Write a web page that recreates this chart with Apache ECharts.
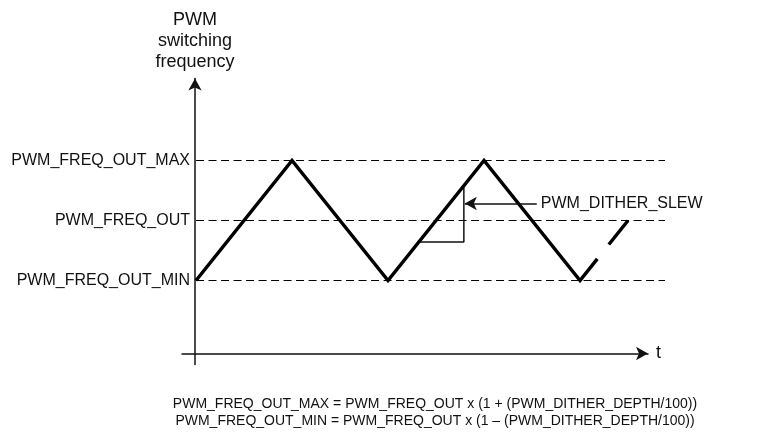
<!DOCTYPE html>
<html><head><meta charset="utf-8">
<script src="https://cdn.jsdelivr.net/npm/echarts@6/dist/echarts.min.js"></script>
<style>html,body{margin:0;padding:0;background:#fff}#c{width:774px;height:433px}</style>
</head><body><div id="c"></div>
<script>
// Frequency levels (MAX / OUT / MIN) and their tick labels
const levelValues = [1, 0, -1];
const levelLabels = ['PWM_FREQ_OUT_MAX', 'PWM_FREQ_OUT', 'PWM_FREQ_OUT_MIN'];
const levelStart = 0;
const levelEnd = 4.865;
// Triangle dither waveform (time, frequency)
const waveTime = [0, 1, 2, 3, 4, 4.18];
const waveFreq = [-1, 1, -1, 1, -1, -0.64];
// Continuation segment after the gap
const tailTime = [4.3, 4.5];
const tailFreq = [-0.4, 0];
// Slew-rate triangle
const slewTime = [2.32, 2.79, 2.79];
const slewFreq = [-0.36, -0.36, 0.58];
// Annotation arrow (from label to triangle)
const arrowTime = [3.55, 2.80];
const arrowFreq = [0.283, 0.283];
const arrowLabel = 'PWM_DITHER_SLEW';
const yTitle = 'PWM\nswitching\nfrequency';
const xTitle = 't';
const formulaLines = [
  'PWM_FREQ_OUT_MAX = PWM_FREQ_OUT x (1 + (PWM_DITHER_DEPTH/100))',
  'PWM_FREQ_OUT_MIN = PWM_FREQ_OUT x (1 \u2013 (PWM_DITHER_DEPTH/100))'
];

const FONT = "'Liberation Sans', Arial, Helvetica, sans-serif";
const INK = '#111';
const zip = (a, b) => a.map((v, i) => [v, b[i]]);

const X_MIN = -0.1458, X_MAX = 4.708, X2_MAX = 4.865;
const Y_MIN = -2.4, Y_MAX = 2.367;

const levelSeries = levelValues.map(v => ({
  type: 'line',
  xAxisIndex: 1, yAxisIndex: 1,
  data: [[levelStart, v], [levelEnd, v]],
  symbol: 'none',
  silent: true,
  clip: false,
  lineStyle: { color: '#000', width: 1, type: [8, 4.5] },
  z: 1
}));

const chart = echarts.init(document.getElementById('c'), null, { renderer: 'canvas' });
chart.setOption({
  animation: false,
  backgroundColor: '#fff',
  textStyle: { fontFamily: FONT },
  grid: [
    { left: 182, right: 126, top: 78.5, bottom: 68.5, containLabel: false, outerBoundsMode: 'none' },
    { left: 182, right: 109, top: 78.5, bottom: 68.5, containLabel: false, outerBoundsMode: 'none' }
  ],
  xAxis: [{
    type: 'value',
    gridIndex: 0,
    min: X_MIN, max: X_MAX,
    offset: -11,
    axisLine: { show: true, onZero: false, symbol: ['none', 'arrow'], symbolSize: [10, 12], lineStyle: { color: INK, width: 1.5 } },
    axisTick: { show: false },
    axisLabel: { show: false },
    splitLine: { show: false },
    name: xTitle,
    nameLocation: 'end',
    nameGap: 8,
    nameTextStyle: { fontSize: 18, color: INK, fontFamily: FONT }
  }, {
    type: 'value', gridIndex: 1, min: X_MIN, max: X2_MAX, show: false
  }],
  yAxis: [{
    type: 'value',
    gridIndex: 0,
    min: Y_MIN, max: Y_MAX,
    offset: -13,
    axisLine: { show: true, onZero: false, symbol: ['none', 'arrow'], symbolSize: [10, 12], lineStyle: { color: INK, width: 1.5 } },
    axisTick: { show: false },
    splitLine: { show: false },
    axisLabel: {
      customValues: levelValues,
      formatter: v => levelLabels[levelValues.indexOf(v)] || '',
      fontSize: 16, color: INK, margin: 5, fontFamily: FONT
    },
    name: yTitle,
    nameLocation: 'end',
    nameGap: 6,
    nameTextStyle: { fontSize: 18, lineHeight: 21, color: INK, align: 'center', verticalAlign: 'bottom', fontFamily: FONT }
  }, {
    type: 'value', gridIndex: 1, min: Y_MIN, max: Y_MAX, show: false
  }],
  series: [
    ...levelSeries,
    {
      type: 'line', data: zip(waveTime, waveFreq), symbol: 'none', silent: true,
      lineStyle: { color: '#000', width: 3.5, cap: 'butt', join: 'miter' }, z: 3
    },
    {
      type: 'line', data: zip(tailTime, tailFreq), symbol: 'none', silent: true,
      lineStyle: { color: '#000', width: 3.5, cap: 'butt' }, z: 3
    },
    {
      type: 'line', data: zip(slewTime, slewFreq), symbol: 'none', silent: true,
      lineStyle: { color: INK, width: 1.5 }, z: 2,
      markLine: {
        silent: true,
        symbol: ['none', 'arrow'],
        symbolSize: [10, 12],
        lineStyle: { color: INK, width: 1.5, type: 'solid' },
        label: { show: true, position: 'start', formatter: arrowLabel, fontSize: 16, color: INK, fontFamily: FONT, distance: 4 },
        data: [[{ coord: [arrowTime[0], arrowFreq[0]] }, { coord: [arrowTime[1], arrowFreq[1]] }]]
      }
    }
  ],
  graphic: [{
    type: 'text',
    x: 435, y: 396,
    silent: true,
    style: {
      text: formulaLines.join('\n'),
      font: '14px ' + FONT,
      fill: INK,
      textAlign: 'center',
      lineHeight: 17
    }
  }]
});
</script>
</body></html>
